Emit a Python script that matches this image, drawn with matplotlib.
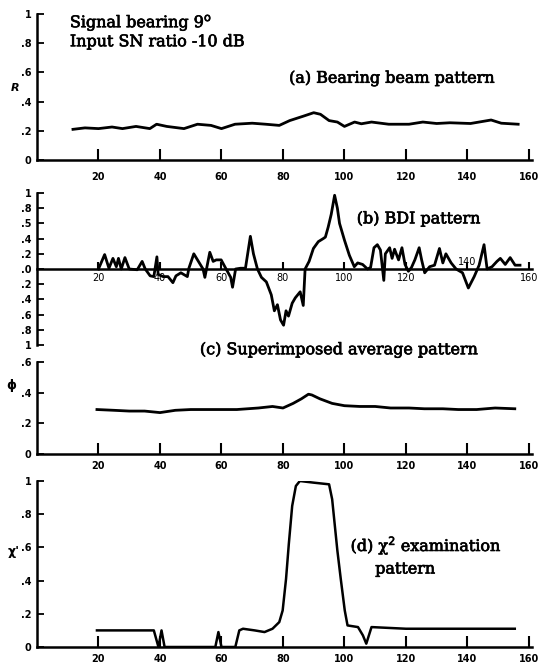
import matplotlib.pyplot as plt
import matplotlib.patheffects as pe

# ---- data ----
# (a) bearing beam pattern
a_x = [11.7, 15.6, 20, 24.4, 27.8, 32.2, 36.7, 38.9, 42.2, 47.8, 52.2, 56.6, 60,
       64.4, 70, 74.4, 78.8, 82.2, 86.6, 90, 92.2, 95, 97.7, 100, 103.3, 105.5,
       108.8, 114.4, 121, 125.5, 130, 134.3, 141, 147.7, 151, 156.5]
a_y = [0.21, 0.22, 0.215, 0.226, 0.215, 0.23, 0.215, 0.245, 0.23, 0.215, 0.245,
       0.237, 0.215, 0.245, 0.252, 0.245, 0.237, 0.27, 0.30, 0.324, 0.313, 0.27,
       0.26, 0.23, 0.26, 0.248, 0.26, 0.245, 0.245, 0.26, 0.25, 0.255, 0.25,
       0.274, 0.252, 0.245]

# (b) BDI pattern
b_x = [20, 22, 23.4, 24.7, 25.8, 26.5, 27.4, 28.6, 30, 32.6, 34.2, 35.2, 36.8, 38,
       39, 39.4, 41, 42.6, 44.2, 45.2, 46.8, 48.9, 49.4, 51, 52.5, 54, 54.6, 56.2,
       57.3, 58.3, 59.9, 61.5, 63, 63.6, 64.6, 66.2, 67.8, 69.4, 70.4, 71.7, 73,
       74.6, 76.2, 77.2, 78.2, 79.2, 80.2, 81, 81.8, 83, 84, 85.6, 86.6, 87.2,
       88.5, 89.9, 91.5, 93.1, 93.8, 94.7, 95.7, 96.8, 97.7, 98.4, 100, 101.6,
       103.2, 104.3, 105.9, 107.5, 108.5, 109.6, 110.7, 111.7, 112.8, 113.3,
       114.7, 115.5, 116.3, 117.6, 118.7, 119.7, 120.8, 121.8, 122.9, 124.3,
       125.1, 126.1, 127.7, 129.3, 130.9, 132, 133, 134.7, 136.3, 138.4, 140.3,
       142.2, 143.8, 145.4, 146.4, 148, 149.6, 150.7, 152.3, 153.9, 155.5, 157.1]
b_y = [0.0, 0.19, 0.01, 0.14, 0.03, 0.14, 0.0, 0.15, 0.0, -0.01, 0.1, 0.0, -0.09,
       -0.1, 0.16, -0.07, -0.1, -0.1, -0.18, -0.09, -0.05, -0.1, 0.01, 0.2, 0.1,
       0.0, -0.11, 0.22, 0.1, 0.12, 0.12, 0.0, -0.11, -0.24, 0.0, 0.01, 0.01,
       0.43, 0.2, 0.0, -0.11, -0.17, -0.34, -0.55, -0.47, -0.67, -0.74, -0.55,
       -0.62, -0.45, -0.38, -0.3, -0.48, 0.0, 0.1, 0.27, 0.36, 0.4, 0.42, 0.55,
       0.72, 0.97, 0.8, 0.6, 0.38, 0.18, 0.03, 0.08, 0.06, 0.0, 0.02, 0.28, 0.32,
       0.25, -0.15, 0.2, 0.28, 0.14, 0.26, 0.12, 0.28, 0.06, -0.03, 0.02, 0.12,
       0.28, 0.12, -0.05, 0.03, 0.05, 0.27, 0.08, 0.2, 0.08, 0.0, -0.05, -0.25,
       -0.1, 0.05, 0.32, 0.0, 0.03, 0.1, 0.14, 0.06, 0.15, 0.05, 0.05]

# (c) superimposed average pattern
c_x = [19.5, 25, 30, 35, 40, 45, 50, 57, 65, 72, 76.6, 80, 83.3, 86, 88.3, 89.4,
       92, 96, 100, 105, 110, 115, 121, 126, 132, 137, 143, 149, 155.4]
c_y = [0.29, 0.285, 0.28, 0.28, 0.27, 0.285, 0.29, 0.29, 0.29, 0.30, 0.31, 0.30,
       0.33, 0.36, 0.39, 0.385, 0.36, 0.33, 0.315, 0.31, 0.31, 0.30, 0.30, 0.295,
       0.295, 0.29, 0.29, 0.30, 0.295]

# (d) chi-square examination pattern
d_x = [19.5, 30, 38, 39.5, 40.5, 41.5, 58, 59, 60, 64.5, 65.8, 67, 70.8, 74,
       76.6, 78.8, 79.9, 81, 81.9, 83, 84.2, 85.5, 90, 95, 96, 97.7, 98.8, 100.1,
       101, 104.4, 106, 107.1, 108.8, 120, 140, 155.4]
d_y = [0.10, 0.10, 0.10, 0.0, 0.10, 0.0, 0.0, 0.09, 0.0, 0.0, 0.10, 0.11, 0.10,
       0.09, 0.11, 0.15, 0.22, 0.41, 0.62, 0.85, 0.97, 1.0, 0.99, 0.98, 0.89,
       0.58, 0.41, 0.22, 0.13, 0.12, 0.07, 0.02, 0.12, 0.11, 0.11, 0.11]

x_ticks = [20, 40, 60, 80, 100, 120, 140, 160]
x_labels = ['20', '40', '60', '80', '100', '120', '140', '160']
a_yticks = [0, 0.2, 0.4, 0.6, 0.8, 1.0]
a_ylabels = ['0', '.2', '.4', '.6', '.8', '1']
b_yticks = [1.0, 0.8, 0.6, 0.4, 0.2, 0.0, -0.2, -0.4, -0.6, -0.8, -1.0]
b_ylabels = ['1', '.8', '.5', '.4', '.2', '.0', '.2', '.4', '.6', '.8', '1']
c_yticks = [0, 0.2, 0.4, 0.6]
c_ylabels = ['0', '.2', '.4', '.6']

W, H = 540, 663
fig = plt.figure(figsize=(W / 100, H / 100), dpi=100)
serif = 'DejaVu Serif'
tick_font = {'family': 'DejaVu Sans', 'weight': 'bold', 'size': 7}
# slightly heavier strokes, like the scanned print
ink = [pe.withStroke(linewidth=0.5, foreground='black')]
txt = dict(family=serif, fontsize=11.5, va='center', path_effects=ink)


def box(top_px, bottom_px, left_px=37, right_px=532):
    return [left_px / W, 1 - bottom_px / H, (right_px - left_px) / W,
            (bottom_px - top_px) / H]


def style(ax, yticks, ylabels, pad=5):
    for s in ['top', 'right']:
        ax.spines[s].set_visible(False)
    for s in ['left', 'bottom']:
        ax.spines[s].set_linewidth(1.8)
    ax.set_xlim(0, 161)
    ax.set_xticks(x_ticks)
    ax.set_yticks(yticks)
    ax.set_yticklabels(ylabels, fontdict=tick_font)
    ax.tick_params(axis='x', direction='in', length=8, width=1.5, pad=pad)
    ax.tick_params(axis='y', direction='in', length=5, width=1.3, pad=4)
    ax.set_xticklabels(x_labels, fontdict=tick_font)


# (a)
ax_a = fig.add_axes(box(14, 160))
ax_a.plot(a_x, a_y, color='black', lw=2.0)
ax_a.set_ylim(0, 1)
style(ax_a, a_yticks, a_ylabels, pad=9)
fig.text(15 / W, 1 - 88 / H, 'R', fontsize=8, fontstyle='italic',
         fontweight='bold', ha='center', va='center')
ax_a.text(10.7, 0.94, 'Signal bearing 9$^{\\mathrm{o}}$', **txt)
ax_a.text(10.7, 0.81, 'Input SN ratio -10 dB', **txt)
ax_a.text(82, 0.56, '(a) Bearing beam pattern', **txt)

# (b)
ax_b = fig.add_axes(box(193, 345))
ax_b.plot(b_x, b_y, color='black', lw=2.0)
ax_b.set_ylim(-1, 1)
style(ax_b, b_yticks, b_ylabels)
ax_b.spines['bottom'].set_position(('data', 0))
ax_b.tick_params(axis='x', length=5, pad=3)
b_lbls = [l if l != '140' else '' for l in x_labels]
ax_b.set_xticklabels(b_lbls, fontdict={'family': 'DejaVu Sans', 'size': 7})
ax_b.text(140, 0.05, '140', fontsize=7, family='DejaVu Sans', ha='center')
ax_b.text(104, 0.66, '(b) BDI pattern', **txt)

# (c)
ax_c = fig.add_axes(box(362, 454))
ax_c.plot(c_x, c_y, color='black', lw=2.0)
ax_c.set_ylim(0, 0.6)
style(ax_c, c_yticks, c_ylabels)
fig.text(11 / W, 1 - 386 / H, '\u03d5', fontsize=9, fontweight='bold',
         ha='center', va='center')
ax_c.text(53, 0.68, '(c) Superimposed average pattern', **txt)

# (d)
ax_d = fig.add_axes(box(481, 647))
ax_d.plot(d_x, d_y, color='black', lw=1.8)
ax_d.set_ylim(0, 1)
style(ax_d, a_yticks, a_ylabels)
fig.text(14 / W, 1 - 552 / H, "\u03c7'", fontsize=9, fontweight='bold',
         ha='center', va='center')
ax_d.text(102, 0.61, '(d) \u03c7$^{2}$ examination', **txt)
ax_d.text(110, 0.47, 'pattern', **txt)

fig.savefig('out.png', dpi=100)
